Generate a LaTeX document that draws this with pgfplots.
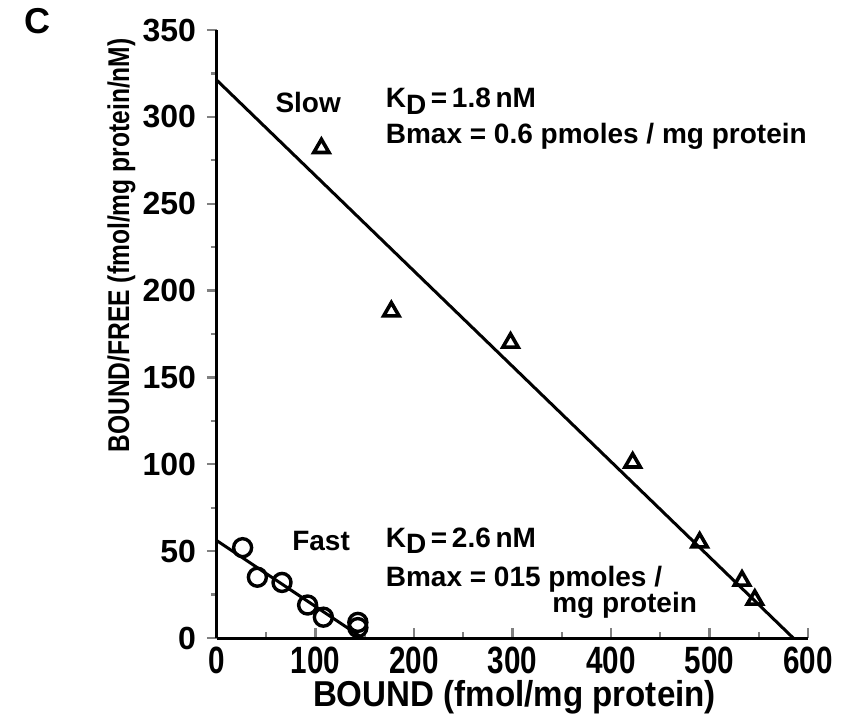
\documentclass[border=0pt]{standalone}
\usepackage{fontspec}
\setmainfont{Liberation Sans}
\newfontfamily\narrow[FakeStretch=0.78]{Liberation Sans}
\newfontfamily\ylab[FakeStretch=0.82]{Liberation Sans}
\newfontfamily\xlab[FakeStretch=0.92]{Liberation Sans}
\usepackage{pgfplots}
\pgfplotsset{compat=1.18}
\pgfplotstableread{
x y
106 282
177 188
298 170
422 101
490 55
533 33
546 22
}\slowdata
\pgfplotstableread{
x y
26 52
41 35
66 32
92 19
108 12
143 9
143 6
}\fastdata
\newcommand{\KD}{K\raisebox{-0.45ex}{D}}
\begin{document}
\begin{tikzpicture}
\useasboundingbox (-108.5pt,-41pt) rectangle (314pt,319pt);
\begin{axis}[
  scale only axis, width=295.5pt, height=304pt,
  xmin=0, xmax=600, ymin=0, ymax=350,
  axis x line=bottom, axis y line=left,
  axis line style={-, line width=1.5pt},
  xtick={0,100,...,600}, ytick={0,50,...,350},
  minor xtick={50,150,...,550}, minor ytick={25,75,...,325},
  major tick length=5pt, minor tick length=3pt,
  tick style={line width=1.2pt},
  xtick align=inside, ytick align=outside,
  /pgf/number format/assume math mode=true,
  xticklabel style={font=\fontsize{19}{21}\selectfont\narrow\bfseries, yshift=-1pt},
  yticklabel style={font=\fontsize{16}{18}\selectfont\bfseries, anchor=east, xshift=-2pt},
  clip=false,
]
\addplot[black, line width=1.5pt, no marks] coordinates {(0,321) (585,0)};
\addplot[black, line width=1.5pt, no marks] coordinates {(0,56) (148,0)};
\addplot[only marks, mark=triangle, mark size=4.4pt, mark options={black, line width=1.8pt, fill=white}] table[x=x,y=y] {\slowdata};
\addplot[only marks, mark=o, mark size=4.5pt, mark options={black, line width=1.7pt, fill=none}] table[x=x,y=y] {\fastdata};

\begin{scope}[every node/.style={anchor=west, inner sep=0pt, font=\fontsize{14}{16}\selectfont\bfseries}]
\node at (axis cs:59,308) {Slow};
\node at (axis cs:171,309) {\KD\,=\,1.8\,nM};
\node at (axis cs:171,289) {Bmax = 0.6 pmoles / mg protein};
\node at (axis cs:76,56) {Fast};
\node at (axis cs:171,56) {\KD\,=\,2.6\,nM};
\node at (axis cs:171,34) {Bmax = 015 pmoles /};
\node at (axis cs:340,19) {mg protein};
\end{scope}
\node[font=\fontsize{18}{20}\selectfont\bfseries] at (axis cs:-182,355) {C};
\node[rotate=90, font=\fontsize{15}{17}\selectfont\ylab\bfseries] at (axis cs:-97,226) {BOUND/FREE (fmol/mg protein/nM)};
\node[font=\fontsize{18}{20}\selectfont\xlab\bfseries] at (axis cs:302,-34) {BOUND (fmol/mg protein)};
\end{axis}
\end{tikzpicture}
\end{document}
